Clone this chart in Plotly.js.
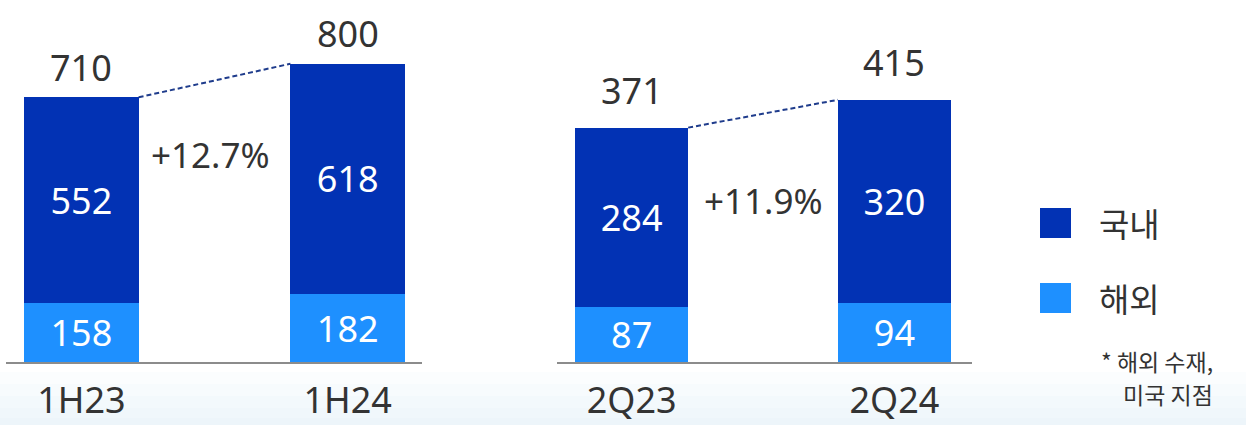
<!DOCTYPE html>
<html>
<head>
<meta charset="utf-8">
<script src="https://cdn.plot.ly/plotly-3.0.1.min.js"></script>
<style>html,body{margin:0;padding:0;background:#fff;}#chart{width:1246px;height:425px;}</style>
</head>
<body>
<div id="chart"></div>
<script>
// ---- data ----
const catsH = ["1H23", "1H24"];
const domesticH = [552, 618];
const overseasH = [158, 182];
const totalsH = [710, 800];

const catsQ = ["2Q23", "2Q24"];
const domesticQ = [284, 320];
const overseasQ = [87, 94];
const totalsQ = [371, 415];

const growthLabels = ["+12.7%", "+11.9%"];
const seriesNames = ["국내", "해외"];
const footnote = ["* 해외 수재,", "미국 지점"];

// ---- styles ----
const DARK = "#0232B4";
const LIGHT = "#1E90FF";
const TXT = "#333333";
const NUMFONT = "Noto Sans, sans-serif";
const KRFONT = "Noto Sans CJK KR, sans-serif";
const NS = 36;
const BW = 0.43;

function panelTraces(cats, dom, ovs, tot, xa, ya) {
  const xs = cats.map((c, i) => i);
  return [
    {type: "bar", x: xs, y: ovs, width: BW, xaxis: xa, yaxis: ya, name: seriesNames[1],
     marker: {color: LIGHT}, text: ovs.map(String), textposition: "inside", textangle: 0,
     insidetextanchor: "middle", constraintext: "none",
     textfont: {color: "#fff", size: NS, family: NUMFONT}, hoverinfo: "skip", showlegend: false},
    {type: "bar", x: xs, y: dom, width: BW, xaxis: xa, yaxis: ya, name: seriesNames[0],
     marker: {color: DARK}, text: dom.map(String), textposition: "inside", textangle: 0,
     insidetextanchor: "middle", constraintext: "none",
     textfont: {color: "#fff", size: NS, family: NUMFONT}, hoverinfo: "skip", showlegend: false},
    {type: "scatter", mode: "lines", x: [xs[0] + BW / 2, xs[1] - BW / 2], y: tot,
     xaxis: xa, yaxis: ya, line: {color: "#1F3C8C", width: 2, dash: "5px,3px"},
     hoverinfo: "skip", showlegend: false}
  ];
}

const data = [
  ...panelTraces(catsH, domesticH, overseasH, totalsH, "x", "y"),
  ...panelTraces(catsQ, domesticQ, overseasQ, totalsQ, "x2", "y2")
];

const annotations = [];
totalsH.forEach((t, i) => annotations.push({x: i, y: t, xref: "x", yref: "y", text: String(t),
  showarrow: false, yanchor: "middle", yshift: 30, font: {size: NS, color: TXT, family: NUMFONT}}));
totalsQ.forEach((t, i) => annotations.push({x: i, y: t, xref: "x2", yref: "y2", text: String(t),
  showarrow: false, yanchor: "middle", yshift: 37, font: {size: NS, color: TXT, family: NUMFONT}}));
annotations.push({x: 0.5, y: 0.572, xref: "x", yref: "paper", text: growthLabels[0], showarrow: false,
  xshift: -4, yanchor: "middle", font: {size: 35, color: TXT, family: NUMFONT}});
annotations.push({x: 0.5, y: 0.445, xref: "x2", yref: "paper", text: growthLabels[1], showarrow: false,
  yanchor: "middle", font: {size: 35, color: TXT, family: NUMFONT}});

// legend (drawn)
const W = 1246, PH = 362;
const px = v => v / W, py = v => 1 - v / PH;
annotations.push({x: px(1097), y: py(223), xref: "paper", yref: "paper", xanchor: "left", yanchor: "middle",
  text: seriesNames[0], showarrow: false, font: {size: 33, color: TXT, family: KRFONT}});
annotations.push({x: px(1097), y: py(298), xref: "paper", yref: "paper", xanchor: "left", yanchor: "middle",
  text: seriesNames[1], showarrow: false, font: {size: 33, color: TXT, family: KRFONT}});
annotations.push({x: px(1099), y: py(361), xref: "paper", yref: "paper", xanchor: "left", yanchor: "middle",
  text: footnote[0], showarrow: false, font: {size: 23, color: TXT, family: KRFONT}});
annotations.push({x: px(1121), y: py(394), xref: "paper", yref: "paper", xanchor: "left", yanchor: "middle",
  text: footnote[1], showarrow: false, font: {size: 23, color: TXT, family: KRFONT}});

const shapes = [
  {type: "rect", xref: "paper", yref: "paper", x0: px(1040), x1: px(1071), y0: py(238), y1: py(208),
   fillcolor: DARK, line: {width: 0}},
  {type: "rect", xref: "paper", yref: "paper", x0: px(1040), x1: px(1071), y0: py(313), y1: py(283),
   fillcolor: LIGHT, line: {width: 0}}
];
[372, 384, 396, 408, 418].forEach(v => shapes.push({type: "rect", xref: "paper", yref: "paper", layer: "below",
  x0: 0, x1: 1, y0: py(v), y1: py(430), fillcolor: "rgba(214,232,248,0.09)", line: {width: 0}}));

const xcommon = {showgrid: false, zeroline: false, showline: true, linecolor: "#8C8C8C", linewidth: 2,
  ticks: "", tickfont: {size: NS, color: TXT, family: NUMFONT}, ticklabelstandoff: 6, fixedrange: true};

const layout = {
  width: 1246, height: 425,
  margin: {l: 0, r: 0, t: 0, b: 63},
  paper_bgcolor: "#ffffff", plot_bgcolor: "rgba(0,0,0,0)",
  barmode: "stack", showlegend: false,
  xaxis: Object.assign({}, xcommon, {domain: [px(6), px(422)], range: [-0.283, 1.279],
    tickvals: catsH.map((c, i) => i), ticktext: catsH, anchor: "y"}),
  xaxis2: Object.assign({}, xcommon, {domain: [px(557), px(972)], range: [-0.284, 1.295],
    tickvals: catsQ.map((c, i) => i), ticktext: catsQ, anchor: "y2"}),
  yaxis: {domain: [0, 1], range: [0, 971], visible: false, fixedrange: true, anchor: "x"},
  yaxis2: {domain: [0, 1], range: [0, 573], visible: false, fixedrange: true, anchor: "x2"},
  annotations: annotations,
  shapes: shapes
};

Plotly.newPlot("chart", data, layout, {displayModeBar: false, staticPlot: true});
</script>
</body>
</html>
